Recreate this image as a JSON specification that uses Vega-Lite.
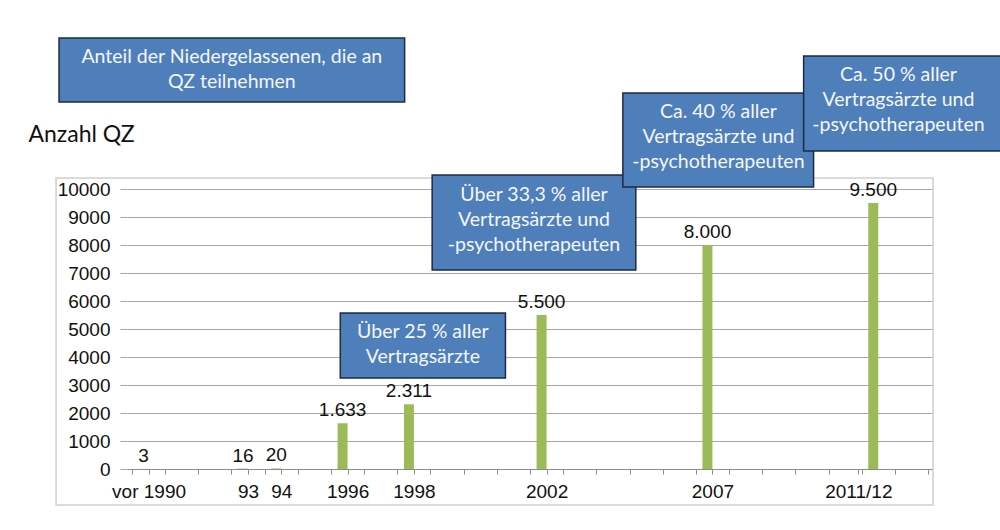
{
  "$schema": "https://vega.github.io/schema/vega-lite/v6.json",
  "width": 806,
  "height": 280,
  "autosize": {"type": "none"},
  "padding": {"left": 127, "top": 189, "right": 67, "bottom": 61},
  "background": "white",
  "config": {
    "view": {"stroke": null},
    "locale": {"number": {"decimal": ",", "thousands": ".", "grouping": [3], "currency": ["", " €"]}}
  },
  "resolve": {"axis": {"x": "independent", "y": "independent"}},
  "datasets": {
    "bars": [
      {"jahr": 1990, "label": "vor 1990", "anzahl": 3},
      {"jahr": 1993, "label": "93", "anzahl": 16},
      {"jahr": 1994, "label": "94", "anzahl": 20},
      {"jahr": 1996, "label": "1996", "anzahl": 1633},
      {"jahr": 1998, "label": "1998", "anzahl": 2311},
      {"jahr": 2002, "label": "2002", "anzahl": 5500},
      {"jahr": 2007, "label": "2007", "anzahl": 8000},
      {"jahr": 2012, "label": "2011/12", "anzahl": 9500}
    ],
    "frame": [
      {"x1": 1987.21, "x2": 2013.65, "y1": 10393, "y2": -1286}
    ],
    "boxes": [
      {"x1": 1987.3, "x2": 1997.72, "y1": 15393, "y2": 13107, "cx": 1992.51, "cy": 14714, "text": "Anteil  der Niedergelassenen, die an\nQZ teilnehmen"},
      {"x1": 1995.78, "x2": 2000.76, "y1": 5571, "y2": 3250, "cx": 1998.27, "cy": 4893, "text": "Über 25 % aller\nVertragsärzte"},
      {"x1": 1998.55, "x2": 2004.69, "y1": 10500, "y2": 7107, "cx": 2001.62, "cy": 9786, "text": "Über 33,3 % aller\nVertragsärzte und\n-psychotherapeuten"},
      {"x1": 2004.3, "x2": 2010.05, "y1": 13429, "y2": 10071, "cx": 2007.18, "cy": 12750, "text": "Ca. 40 % aller\nVertragsärzte und\n-psychotherapeuten"},
      {"x1": 2009.75, "x2": 2016.5, "y1": 14750, "y2": 11357, "cx": 2012.61, "cy": 14071, "text": "Ca. 50 % aller\nVertragsärzte und\n-psychotherapeuten"}
    ]
  },
  "layer": [
    {
      "data": {"name": "bars"},
      "mark": {"type": "bar", "color": "#9BBB59", "size": 10, "xOffset": -5},
      "encoding": {
        "x": {
          "field": "jahr", "type": "quantitative",
          "scale": {"domain": [1989.5, 2013.5], "nice": false, "zero": false},
          "axis": {
            "title": null,
            "values": [1989.5, 1990, 1990.5, 1991.5, 1992.5, 1993, 1993.5, 1994, 1994.5, 1995.5, 1996, 1996.5, 1997.5, 1998, 1998.5, 1999.5, 2000.5, 2001.5, 2002, 2002.5, 2003.5, 2004.5, 2005.5, 2006.5, 2007, 2007.5, 2008.5, 2009.5, 2010.5, 2011.4, 2011.5, 2012.5, 2013.5],
            "labelExpr": "datum.value == 1990 ? 'vor 1990' : datum.value == 1993 ? '93' : datum.value == 1994 ? '94' : datum.value == 2011.4 ? '2011/12' : (datum.value % 1 == 0 ? '' + datum.value : '')",
            "encode": {"ticks": {"update": {"opacity": {"signal": "datum.value % 1 == 0.5 ? 1 : 0"}}}},
            "tickSize": 5,
            "tickColor": "#8c8c8c",
            "domainColor": "#8c8c8c",
            "grid": false,
            "labelOverlap": false,
            "labelBound": false,
            "labelFlush": false,
            "labelFont": "Liberation Sans",
            "labelFontSize": 19,
            "labelColor": "#111111",
            "labelPadding": 8
          }
        },
        "y": {
          "field": "anzahl", "type": "quantitative",
          "scale": {"domain": [0, 10000], "nice": false},
          "axis": {
            "title": "Anzahl QZ",
            "values": [0, 1000, 2000, 3000, 4000, 5000, 6000, 7000, 8000, 9000, 10000],
            "format": "d",
            "domain": false,
            "grid": true,
            "gridColor": "#a6a6a6",
            "tickColor": "#a6a6a6",
            "tickSize": 7,
            "labelOverlap": false,
            "labelFont": "Liberation Sans",
            "labelFontSize": 19,
            "labelColor": "#111111",
            "labelPadding": 10,
            "titleAngle": 0,
            "titleAlign": "left",
            "titleBaseline": "middle",
            "titleX": -99,
            "titleY": -55,
            "titleFont": "Lato",
            "titleFontSize": 23,
            "titleFontWeight": "normal",
            "titleColor": "#111111"
          }
        }
      }
    },
    {
      "data": {"name": "frame"},
      "mark": {"type": "rect", "fill": null, "stroke": "#cfcfcf", "strokeWidth": 1.5},
      "encoding": {
        "x": {"field": "x1", "type": "quantitative", "axis": null},
        "x2": {"field": "x2"},
        "y": {"field": "y1", "type": "quantitative", "axis": null},
        "y2": {"field": "y2"}
      }
    },
    {
      "data": {"name": "bars"},
      "mark": {"type": "text", "font": "Liberation Sans", "fontSize": 19, "color": "#111111", "baseline": "alphabetic", "dy": -7, "dx": -5},
      "encoding": {
        "x": {"field": "jahr", "type": "quantitative", "axis": null},
        "y": {"field": "anzahl", "type": "quantitative", "axis": null},
        "text": {"field": "anzahl", "type": "quantitative", "format": ",d"}
      }
    },
    {
      "data": {"name": "boxes"},
      "mark": {"type": "rect", "fill": "#4F7FBB", "stroke": "#1d2b40", "strokeWidth": 1.5},
      "encoding": {
        "x": {"field": "x1", "type": "quantitative", "axis": null},
        "x2": {"field": "x2"},
        "y": {"field": "y1", "type": "quantitative", "axis": null},
        "y2": {"field": "y2"}
      }
    },
    {
      "data": {"name": "boxes"},
      "mark": {"type": "text", "font": "Lato", "fontSize": 19.5, "color": "#f4f6fa", "lineBreak": "\n", "lineHeight": 25, "align": "center", "baseline": "middle"},
      "encoding": {
        "x": {"field": "cx", "type": "quantitative", "axis": null},
        "y": {"field": "cy", "type": "quantitative", "axis": null},
        "text": {"field": "text", "type": "nominal"}
      }
    }
  ]
}
